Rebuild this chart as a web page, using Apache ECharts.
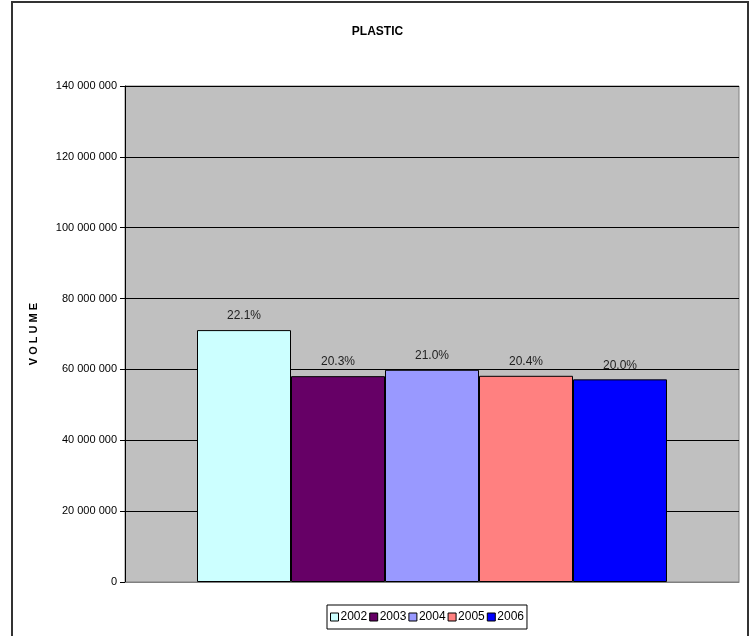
<!DOCTYPE html>
<html>
<head>
<meta charset="utf-8">
<script src="https://cdn.jsdelivr.net/npm/echarts@6/dist/echarts.min.js"></script>
<style>
html,body{margin:0;padding:0;background:#fff;}
#chart{width:755px;height:636px;}
</style>
</head>
<body>
<div id="chart"></div>
<script>
const title = 'PLASTIC';
const yAxisName = 'V O L U M E';
const categories = [''];
const years = ['2002', '2003', '2004', '2005', '2006'];
const volumes = [71100000, 58100000, 59900000, 58200000, 57200000];
const shareLabels = ['22.1%', '20.3%', '21.0%', '20.4%', '20.0%'];
const colors = ['#CCFFFF', '#660066', '#9999FF', '#FF8080', '#0000FF'];

const FONT = '"Liberation Sans", Arial, sans-serif';

const chart = echarts.init(document.getElementById('chart'), null, {renderer: 'canvas'});

const series = years.map((y, i) => ({
  name: y,
  type: 'bar',
  data: [volumes[i]],
  barWidth: 94,
  barGap: '0%',
  itemStyle: {color: colors[i], borderColor: '#000', borderWidth: 1},
  label: {
    show: true,
    position: 'top',
    distance: 8,
    formatter: () => shareLabels[i],
    fontFamily: FONT,
    fontSize: 12,
    color: '#222'
  },
  emphasis: {disabled: true}
}));

chart.setOption({
  animation: false,
  backgroundColor: '#fff',
  title: {
    text: title,
    left: 'center',
    top: 21,
    textStyle: {fontFamily: FONT, fontSize: 12, fontWeight: 'bold', color: '#000'}
  },
  legend: {
    bottom: 7,
    left: 327,
    itemWidth: 8,
    itemHeight: 8,
    itemGap: 2,
    padding: [6, 3],
    borderColor: '#000',
    borderWidth: 1,
    icon: 'rect',
    textStyle: {fontFamily: FONT, fontSize: 12, color: '#000', padding: [0, 0, 0, -3]},
    data: years.map((y, i) => ({name: y, itemStyle: {borderColor: '#000', borderWidth: 1}}))
  },
  grid: {
    left: 125,
    right: 16,
    top: 86,
    bottom: 54,
    show: true,
    backgroundColor: '#C0C0C0',
    borderColor: '#808080',
    borderWidth: 1
  },
  xAxis: {
    type: 'category',
    data: categories,
    axisLine: {show: true, lineStyle: {color: '#808080'}},
    axisTick: {show: false},
    axisLabel: {show: false}
  },
  yAxis: {
    type: 'value',
    min: 0,
    max: 140000000,
    interval: 20000000,
    name: yAxisName,
    nameLocation: 'middle',
    nameRotate: 90,
    nameGap: 86,
    nameTextStyle: {fontFamily: FONT, fontSize: 11, fontWeight: 'bold', color: '#000'},
    axisLine: {show: true, lineStyle: {color: '#000', width: 1}},
    axisTick: {show: true, length: 5, lineStyle: {color: '#000'}},
    splitLine: {show: true, lineStyle: {color: '#000', width: 1}},
    axisLabel: {
      fontFamily: FONT,
      fontSize: 11,
      color: '#000',
      margin: 8,
      formatter: v => String(v).replace(/\B(?=(\d{3})+(?!\d))/g, ' ')
    }
  },
  graphic: [{
    type: 'rect',
    shape: {x: 12, y: 2, width: 736, height: 650},
    style: {fill: 'none', stroke: '#333', lineWidth: 2},
    silent: true,
    z: 100
  }],
  series: series
});
</script>
</body>
</html>
